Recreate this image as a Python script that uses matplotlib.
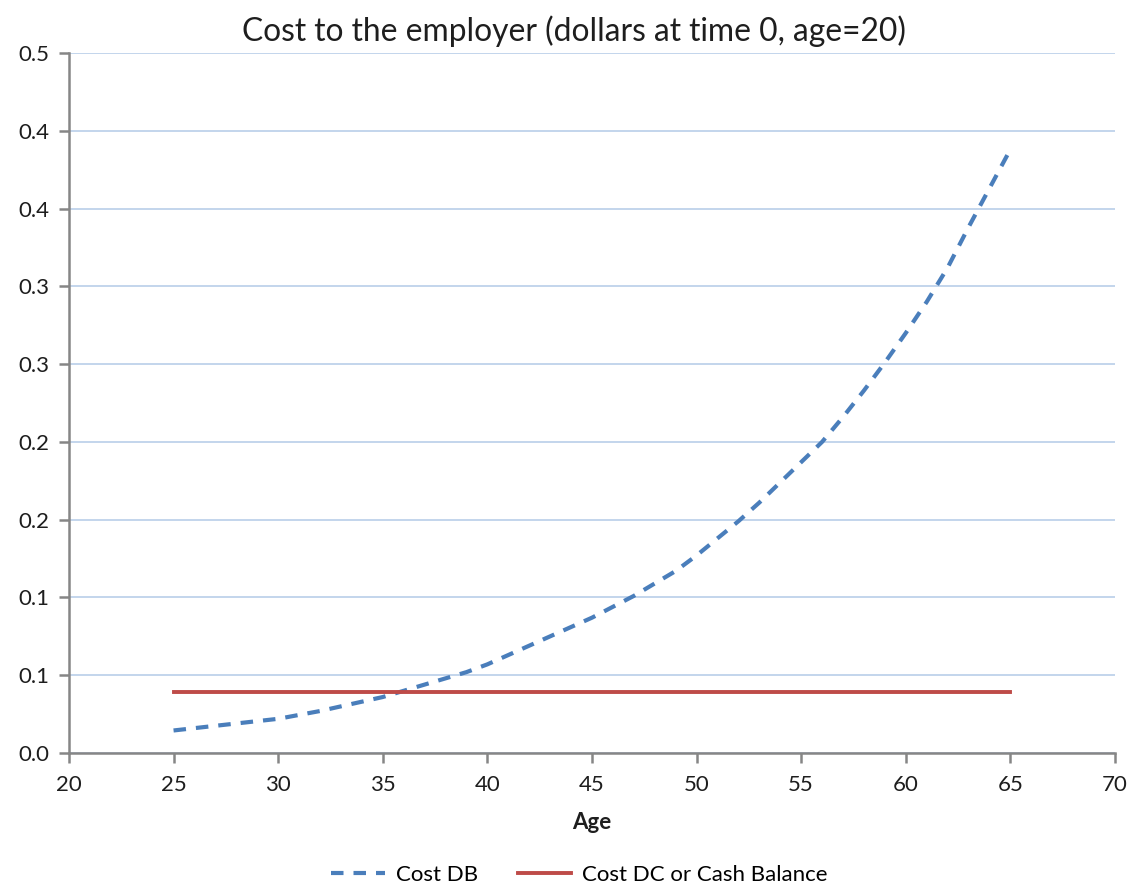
import matplotlib.pyplot as plt
from matplotlib.ticker import FixedLocator

plt.rcParams['font.family'] = ['Lato', 'DejaVu Sans']

# Employer cost per year of service, discounted to time 0 (entry age 20)
ages = list(range(25, 66))
cost_db = [0.0145, 0.016, 0.0175, 0.019, 0.0205, 0.022, 0.0245, 0.027, 0.030, 0.033,
           0.036, 0.040, 0.044, 0.048, 0.052, 0.057, 0.063, 0.069, 0.075, 0.081,
           0.087, 0.094, 0.101, 0.109, 0.117, 0.127, 0.138, 0.149, 0.161, 0.174,
           0.187, 0.200, 0.216, 0.233, 0.251, 0.270, 0.290, 0.312, 0.338, 0.363,
           0.388]
cost_dc = [0.039] * len(ages)

x_ticks = [20, 25, 30, 35, 40, 45, 50, 55, 60, 65, 70]
y_ticks = [0.0, 0.05, 0.10, 0.15, 0.20, 0.25, 0.30, 0.35, 0.40, 0.45]
# one-decimal labels, rounded half up
y_labels = ['0.0', '0.1', '0.1', '0.2', '0.2', '0.3', '0.3', '0.4', '0.4', '0.5']

blue = '#4a7ebb'
red = '#be4b48'
grid_col = '#c3d5ec'
axis_col = '#868686'
text_col = '#1e1e1e'

fig = plt.figure(figsize=(11.34, 8.9), dpi=100)
ax = fig.add_axes([0.0608, 0.1539, 0.9224, 0.7865])

ax.plot(ages, cost_db, color=blue, linewidth=3.0, dashes=(3.0, 2.4), label='Cost DB')
ax.plot(ages, cost_dc, color=red, linewidth=2.8, label='Cost DC or Cash Balance')

ax.set_xlim(20, 70)
ax.set_ylim(0, 0.45)
ax.xaxis.set_major_locator(FixedLocator(x_ticks))
ax.yaxis.set_major_locator(FixedLocator(y_ticks))
ax.set_yticklabels(y_labels)

ax.grid(axis='y', color=grid_col, linewidth=1.4)
ax.set_axisbelow(True)
for side in ['top', 'right']:
    ax.spines[side].set_visible(False)
for side in ['left', 'bottom']:
    ax.spines[side].set_color(axis_col)
    ax.spines[side].set_linewidth(1.8)
    ax.spines[side].set_zorder(3)
ax.tick_params(axis='both', colors=axis_col, length=7, width=1.8, labelcolor=text_col,
               labelsize=16)
ax.tick_params(axis='x', pad=9)
ax.tick_params(axis='y', pad=7)

ax.set_xlabel('Age', fontsize=16, fontweight='bold', color=text_col, labelpad=12)
ax.set_title('Cost to the employer (dollars at time 0, age=20)', fontsize=22.9,
             color=text_col, pad=9, x=0.483)

fig.legend(loc='center', bbox_to_anchor=(0.511, 0.017), ncol=2, frameon=False,
           fontsize=16, handlelength=2.4, columnspacing=1.8, handletextpad=0.5)

fig.savefig('out.png', dpi=100)
